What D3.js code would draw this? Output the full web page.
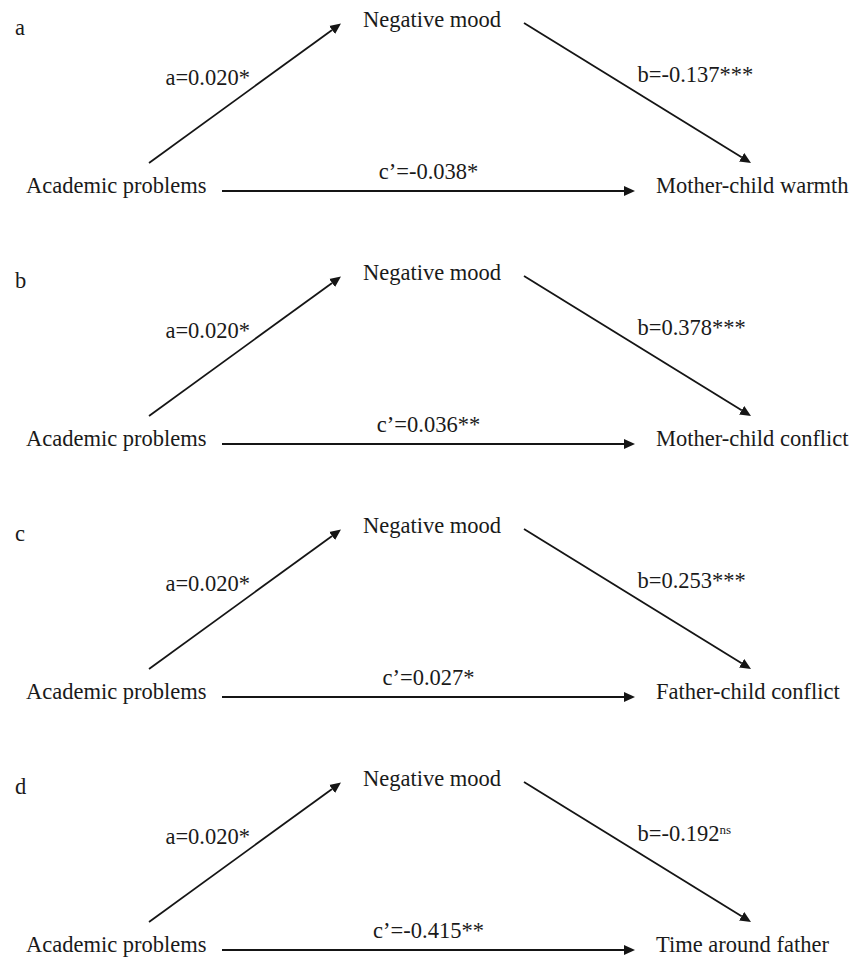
<!doctype html>
<html>
<head>
<meta charset="UTF-8" />
<title>Mediation models</title>
<script src="https://d3js.org/d3.v7.min.js"></script>
<style type="text/css">
body {
	margin: 0;
	background: #fff;
}

svg text {
	font-family: "Liberation Serif", "Times New Roman", serif;
	font-size: 22.5px;
	fill: #1a1a1a;
}

.path {
	fill: none;
	stroke: #151515;
	stroke-width: 1.8px;
}
</style>
</head>
<body>
<div id="chart"></div>
<script>
	// data
	var panelLetters = ["a", "b", "c", "d"];
	var predictor = "Academic problems";
	var mediator = "Negative mood";
	var outcomes = ["Mother-child warmth", "Mother-child conflict", "Father-child conflict", "Time around father"];

	var aCoef = [0.020, 0.020, 0.020, 0.020],
		aSig = ["*", "*", "*", "*"];
	var bCoef = [-0.137, 0.378, 0.253, -0.192],
		bSig = ["***", "***", "***", "ns"];
	var cCoef = [-0.038, 0.036, 0.027, -0.415],
		cSig = ["*", "**", "*", "**"];

	var width = 854,
		height = 959;

	var fmt = d3.formatLocale({decimal: ".", thousands: ",", grouping: [3], currency: ["", ""], minus: "-"}).format(".3f");

	// one row per model, y = baseline of the mediator label
	var panelY = d3.scalePoint()
		.domain(panelLetters)
		.range([27, 786]);

	// horizontal layout of nodes and paths
	var x = d3.scaleLinear().domain([0, width]).range([0, width]);
	var nodeX = {letter: 15, pred: 26, med: 432, out: 656},
		aPath = {x0: 149, y0: 136, x1: 341, y1: -3.5},
		bPath = {x0: 524, y0: -4, x1: 751, y1: 136},
		cPath = {x0: 222, x1: 635, y: 164},
		predDy = 166,
		letterDy = 8;

	var svg = d3.select("#chart").append("svg")
		.attr("width", width)
		.attr("height", height);

	svg.append("defs").append("marker")
			.attr("id", "head")
			.attr("markerUnits", "userSpaceOnUse")
			.attr("viewBox", "0 -6 12 12")
			.attr("refX", 0)
			.attr("refY", 0)
			.attr("markerWidth", 12)
			.attr("markerHeight", 12)
			.attr("orient", "auto")
		.append("path")
			.attr("d", "M0,-5L11,0L0,5Z")
			.attr("fill", "#151515");

	// shorten the line so the head ends on the target point
	function arrow(g, x0, y0, x1, y1) {
		var dx = x1 - x0, dy = y1 - y0, len = Math.sqrt(dx * dx + dy * dy), k = (len - 11) / len;
		g.append("path")
			.attr("class", "path")
			.attr("marker-end", "url(#head)")
			.attr("d", d3.line()([[x(x0), y0], [x(x0) + (x(x1) - x(x0)) * k, y0 + dy * k]]));
	}

	function coefText(sel, value, sig) {
		sel.append("tspan").text(value);
		if (sig === "ns") {
			sel.append("tspan")
				.attr("dy", -7)
				.style("font-size", "13px")
				.text(sig);
		} else {
			sel.append("tspan").text(sig);
		}
	}

	var panels = svg.selectAll("g.panel")
		.data(panelLetters)
		.enter().append("g")
			.attr("class", "panel")
			.attr("transform", function(d) { return "translate(0," + panelY(d) + ")"; });

	panels.each(function(d, i) {
		var g = d3.select(this);

		g.append("text")
			.attr("x", x(nodeX.letter))
			.attr("y", letterDy)
			.text(d);

		g.append("text")
			.attr("x", x(nodeX.med))
			.attr("y", 0)
			.style("text-anchor", "middle")
			.text(mediator);

		g.append("text")
			.attr("x", x(nodeX.pred))
			.attr("y", predDy)
			.text(predictor);

		g.append("text")
			.attr("x", x(nodeX.out))
			.attr("y", predDy)
			.text(outcomes[i]);

		arrow(g, aPath.x0, aPath.y0, aPath.x1, aPath.y1);
		arrow(g, bPath.x0, bPath.y0, bPath.x1, bPath.y1);
		arrow(g, cPath.x0, cPath.y, cPath.x1, cPath.y);

		g.append("text")
			.attr("x", x((aPath.x0 + aPath.x1) / 2 + 5))
			.attr("y", (aPath.y0 + aPath.y1) / 2 - 8)
			.style("text-anchor", "end")
			.call(coefText, "a=" + fmt(aCoef[i]), aSig[i]);

		g.append("text")
			.attr("x", x((bPath.x0 + bPath.x1) / 2))
			.attr("y", (bPath.y0 + bPath.y1) / 2 - 11)
			.call(coefText, "b=" + fmt(bCoef[i]), bSig[i]);

		g.append("text")
			.attr("x", x((cPath.x0 + cPath.x1) / 2))
			.attr("y", predDy - 14)
			.style("text-anchor", "middle")
			.call(coefText, "c\u2019=" + fmt(cCoef[i]), cSig[i]);
	});
</script>
</body>
</html>
